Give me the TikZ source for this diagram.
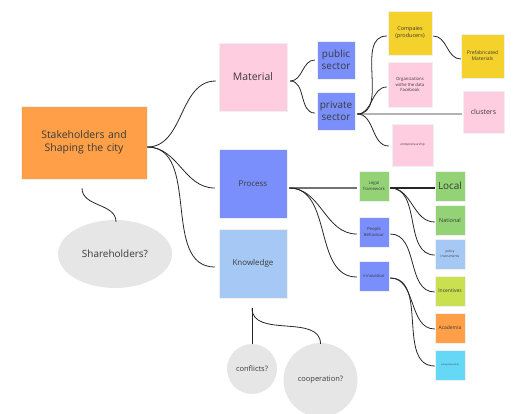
\documentclass[tikz,border=0pt]{standalone}
\usepackage{fontspec}
\setmainfont{Open Sans}
\usetikzlibrary{shapes.geometric}
\definecolor{cOrange}{HTML}{FF9F47}
\definecolor{cPink}{HTML}{FFCCE0}
\definecolor{cBlue}{HTML}{7B8FFC}
\definecolor{cLBlue}{HTML}{A6C8F5}
\definecolor{cYellow}{HTML}{F5D12B}
\definecolor{cGreen}{HTML}{93D376}
\definecolor{cLime}{HTML}{CBE04E}
\definecolor{cCyan}{HTML}{66D8F7}
\definecolor{cGray}{HTML}{E6E6E6}
\definecolor{cText}{HTML}{3A3A3A}
\begin{document}
\begin{tikzpicture}[x=1bp,y=1bp,
  sticky/.style={draw=black!6,line width=0.5bp,inner sep=1bp,align=center,text=cText,font=\fontsize{#1}{#1}\selectfont},
  bubble/.style={fill=cGray,draw=none,text=cText,align=center},
  conn/.style={draw=black!85,line width=0.8bp},
  mm/.style={conn,out=0,in=180}]
\useasboundingbox (0,0) rectangle (515,-413);
\clip (0,0) rectangle (515,-413);
% nodes
\node[sticky=10.5,fill=cOrange,minimum width=126bp,minimum height=73bp,text width=120bp,font=\fontsize{10.5}{13}\selectfont] (main) at (84,-142.5) {Stakeholders and\\Shaping the city};
\node[sticky=10.5,fill=cPink,minimum width=68bp,minimum height=68bp] (mat) at (253,-77) {Material};
\node[sticky=8,fill=cBlue,minimum width=68bp,minimum height=69bp] (proc) at (253,-183.5) {Process};
\node[sticky=8,fill=cLBlue,minimum width=68bp,minimum height=69bp] (know) at (253,-263.5) {Knowledge};
\node[sticky=10,fill=cBlue,minimum width=38bp,minimum height=38bp,font=\fontsize{10}{12}\selectfont] (pub) at (336,-60) {public\\sector};
\node[sticky=10,fill=cBlue,minimum width=38bp,minimum height=38bp,font=\fontsize{10}{12}\selectfont] (priv) at (336,-111) {private\\sector};
\node[sticky=5.5,fill=cYellow,minimum width=44bp,minimum height=44bp,font=\fontsize{5.5}{7}\selectfont] (comp) at (410,-33) {Compaies\\(producers)};
\node[sticky=4.3,fill=cPink,minimum width=44bp,minimum height=45bp,font=\fontsize{4.3}{5.8}\selectfont] (org) at (410,-84.5) {Organizations\\withe the data\\Facebook};
\node[sticky=3,fill=cPink,minimum width=41bp,minimum height=42bp] (entA) at (412.5,-145) {entrepreneurship};
\node[sticky=5,fill=cYellow,minimum width=43bp,minimum height=44bp,font=\fontsize{5}{6.2}\selectfont] (pref) at (482.5,-56) {Prefabricated\\Materials};
\node[sticky=7,fill=cPink,minimum width=41bp,minimum height=42bp] (clus) at (483.5,-112) {clusters};
\node[sticky=4.3,fill=cGreen,minimum width=30bp,minimum height=30bp,font=\fontsize{4.3}{5.8}\selectfont] (legal) at (374,-186) {Legal\\framework};
\node[sticky=4.3,fill=cBlue,minimum width=30bp,minimum height=30bp,font=\fontsize{4.3}{5.8}\selectfont] (peop) at (374,-232) {People\\Behaviour};
\node[sticky=4.3,fill=cBlue,minimum width=30bp,minimum height=30bp] (innov) at (374,-276) {innovation};
\node[sticky=10,fill=cGreen,minimum width=30bp,minimum height=30bp] (local) at (450,-186) {Local};
\node[sticky=5.5,fill=cGreen,minimum width=30bp,minimum height=30bp] (nat) at (450,-220) {National};
\node[sticky=3.3,fill=cLBlue,minimum width=30bp,minimum height=30bp,font=\fontsize{3.3}{5}\selectfont] (pol) at (450,-254) {policy\\instruments};
\node[sticky=5,fill=cLime,minimum width=30bp,minimum height=30bp] (inc) at (450,-291) {Incentives};
\node[sticky=5,fill=cOrange,minimum width=30bp,minimum height=30bp] (acad) at (450,-328) {Academia};
\node[sticky=2.2,fill=cCyan,minimum width=30bp,minimum height=30bp] (entB) at (450,-365) {entrepreneurship};
\node[bubble,ellipse,minimum width=114bp,minimum height=68bp,font=\fontsize{10}{12}\selectfont] (share) at (115,-254) {Shareholders?};
\node[bubble,circle,minimum size=50bp,inner sep=0pt,font=\fontsize{7.5}{9}\selectfont] (confl) at (252,-369) {conflicts?};
\node[bubble,circle,minimum size=74bp,inner sep=0pt,font=\fontsize{7.5}{9}\selectfont] (coop) at (320.5,-380) {cooperation?};
% connectors
\draw[conn] ([yshift=-4.5bp]main.east) to[mm] ([xshift=-3bp,yshift=-4bp]mat.west);
\draw[conn] ([yshift=-4.5bp]main.east) to[mm] ([xshift=-4bp,yshift=-4.5bp]proc.west);
\draw[conn] ([yshift=-4.5bp]main.east) to[mm] ([xshift=-4bp,yshift=-3.5bp]know.west);
\draw[conn] ([xshift=-2bp,yshift=-9bp]main.south) to[out=-90,in=90] ([xshift=1bp,yshift=-2bp]share.north);
\draw[conn] ([xshift=3bp,yshift=-4bp]mat.east) to[mm] ([xshift=-2bp]pub.west);
\draw[conn] ([xshift=3bp,yshift=-4bp]mat.east) to[mm] ([xshift=-2bp,yshift=-2bp]priv.west);
\draw[conn] ([xshift=2bp,yshift=-3bp]priv.east) to[mm] ([xshift=-1bp,yshift=-3bp]comp.west);
\draw[conn] ([xshift=2bp,yshift=-3bp]priv.east) to[mm] ([xshift=-1bp,yshift=-2.5bp]org.west);
\draw[conn] ([xshift=2bp,yshift=-3bp]priv.east) to[mm] ([xshift=-3bp,yshift=-1bp]entA.west);
\draw[conn] ([xshift=2bp,yshift=-3bp]priv.east) -- ([xshift=-1bp,yshift=-2bp]clus.west);
\draw[conn] ([xshift=1bp,yshift=-3bp]comp.east) to[mm] ([yshift=-3bp]pref.west);
\draw[conn,line width=1.1bp] ([xshift=2bp,yshift=-4.5bp]proc.east) -- ([xshift=-2bp,yshift=-2bp]legal.west);
\draw[conn] ([xshift=2bp,yshift=-4.5bp]proc.east) to[mm] ([xshift=-2bp,yshift=-2bp]peop.west);
\draw[conn] ([xshift=2bp,yshift=-4.5bp]proc.east) to[mm] ([xshift=-2bp,yshift=-1bp]innov.west);
\draw[conn,line width=1.1bp] ([xshift=1bp,yshift=-2bp]legal.east) -- ([yshift=-2bp]local.west);
\draw[conn] ([xshift=1bp,yshift=-2bp]legal.east) to[mm] ([yshift=-2bp]nat.west);
\draw[conn] ([xshift=1bp,yshift=-2bp]legal.east) to[mm] ([yshift=-1bp]pol.west);
\draw[conn] ([xshift=1bp,yshift=-2bp]peop.east) to[mm] ([yshift=-1bp]inc.west);
\draw[conn] ([xshift=1bp,yshift=-2bp]innov.east) to[mm] ([yshift=-1bp]acad.west);
\draw[conn] ([xshift=1bp,yshift=-2bp]innov.east) to[mm] ([yshift=-1bp]entB.west);
\draw[conn] ([xshift=-1bp,yshift=-10bp]know.south) -- (confl.north);
\draw[conn] ([xshift=-1bp,yshift=-10bp]know.south) to[out=-90,in=90] ([yshift=-1bp]coop.north);
\end{tikzpicture}
\end{document}
